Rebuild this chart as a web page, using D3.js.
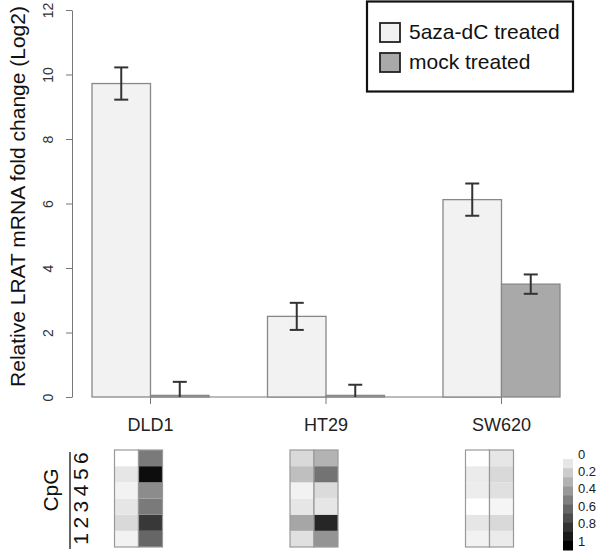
<!DOCTYPE html>
<html><head><meta charset="utf-8">
<script src="https://cdn.jsdelivr.net/npm/d3@7"></script>
<style>body{margin:0;background:#fff}svg{display:block}text{font-family:"Liberation Sans",Arial,sans-serif}</style>
</head><body><svg id="c" width="600" height="551"></svg>
<script>
const categories = ["DLD1","HT29","SW620"];
const seriesNames = ["5aza-dC treated","mock treated"];
const treated = [9.72, 2.5, 6.12];
const treatedErr = [0.5, 0.42, 0.5];
const mock = [0.05, 0.05, 3.5];
const mockErr = [0.42, 0.33, 0.3];
const yTicks = [0,2,4,6,8,10,12];
const cpgLabels = ["1","2","3","4","5","6"];
// methylation (0..1), CpG 1..6 (bottom to top)
const methTreated = [[0.05,0.15,0.1,0.05,0.1,0.0],[0.12,0.35,0.1,0.05,0.25,0.15],[0.05,0.1,0.0,0.07,0.08,0.0]];
const methMock = [[0.6,0.78,0.52,0.45,0.95,0.52],[0.42,0.85,0.1,0.14,0.55,0.3],[0.08,0.15,0.04,0.12,0.15,0.1]];
const scaleTicks = [0,0.2,0.4,0.6,0.8,1];

const svg = d3.select("#c");
const y = d3.scaleLinear().domain([0,12]).range([397,10]);
// R barplot positions: space 1 between groups, bar width 1
const x = d3.scaleLinear().domain([0,9]).range([33.5,560]);
const colors = ["#f2f2f2","#a9a9a9"];

// y axis
const yAxis = svg.append("g").attr("transform","translate(72,0)")
  .call(d3.axisLeft(y).tickValues(yTicks).tickSize(6).tickSizeOuter(0));
yAxis.select(".domain").attr("stroke","#777");
yAxis.selectAll(".tick line").attr("stroke","#777");
yAxis.selectAll(".tick text").attr("font-size",14).attr("fill","#333")
  .attr("x",0).attr("dy",0).attr("text-anchor","middle")
  .attr("transform","translate(-19,0) rotate(-90)");

svg.append("text").attr("transform",`translate(25,${y(6)-7}) rotate(-90)`)
  .attr("text-anchor","middle").attr("font-size",21).attr("fill","#111")
  .text("Relative LRAT mRNA fold change (Log2)");

// x axis
const centers = categories.map((c,i)=>1+3*i+1);
svg.append("line").attr("x1",x(centers[0])).attr("x2",x(centers[2]))
  .attr("y1",y(0)).attr("y2",y(0)).attr("stroke","#777");
categories.forEach((c,i)=>{
  svg.append("line").attr("x1",x(centers[i])).attr("x2",x(centers[i]))
    .attr("y1",y(0)).attr("y2",y(0)+7).attr("stroke","#777");
  svg.append("text").attr("x",x(centers[i])).attr("y",431).attr("text-anchor","middle")
    .attr("font-size",18).attr("fill","#222").text(c);
});

// bars
[treated,mock].forEach((vals,s)=>{
  const errs = s===0?treatedErr:mockErr;
  vals.forEach((v,i)=>{
    const x0 = x(1+3*i+s), x1 = x(2+3*i+s);
    svg.append("rect").attr("x",x0).attr("y",y(v)).attr("width",x1-x0).attr("height",y(0)-y(v))
      .attr("fill",colors[s]).attr("stroke","#888").attr("stroke-width",1.3);
    const cx=(x0+x1)/2, e=errs[i];
    const g = svg.append("g").attr("stroke","#333").attr("stroke-width",2);
    g.append("line").attr("x1",cx).attr("x2",cx).attr("y1",y(v+e)).attr("y2",y(Math.max(v-e,0)));
    g.append("line").attr("x1",cx-7).attr("x2",cx+7).attr("y1",y(v+e)).attr("y2",y(v+e));
    if (v-e>0) g.append("line").attr("x1",cx-7).attr("x2",cx+7).attr("y1",y(v-e)).attr("y2",y(v-e));
  });
});

// legend
svg.append("rect").attr("x",367).attr("y",1.5).attr("width",206).attr("height",90)
  .attr("fill","#fff").attr("stroke","#111").attr("stroke-width",2.2);
seriesNames.forEach((n,i)=>{
  svg.append("rect").attr("x",380).attr("y",23+i*30).attr("width",20).attr("height",19)
    .attr("fill",colors[i]).attr("stroke","#222").attr("stroke-width",1.8);
  svg.append("text").attr("x",409).attr("y",39+i*30).attr("font-size",21).attr("fill","#111").text(n);
});

// heatmap
const gray = d3.scaleLinear().domain([0,1]).range(["#ffffff","#000000"]);
const hy = d3.scaleBand().domain(cpgLabels).range([547,450]);
const cellW = 24;
categories.forEach((c,i)=>{
  const left = x(centers[i]) - 12 - cellW;
  [methTreated[i], methMock[i]].forEach((col,k)=>{
    col.forEach((v,r)=>{
      svg.append("rect").attr("x",left+k*cellW).attr("y",hy(cpgLabels[r]))
        .attr("width",cellW).attr("height",hy.bandwidth()).attr("fill",gray(v));
    });
    svg.append("rect").attr("x",left+k*cellW).attr("y",450).attr("width",cellW).attr("height",97)
      .attr("fill","none").attr("stroke","#999").attr("stroke-width",1.2);
  });
});

// CpG label
svg.append("text").attr("transform",`translate(58,${(477+503)/2}) rotate(-90)`)
  .attr("text-anchor","middle").attr("font-size",21).attr("fill","#111").text("CpG");
svg.append("line").attr("x1",70).attr("x2",70).attr("y1",452).attr("y2",549).attr("stroke","#111").attr("stroke-width",1.3);
cpgLabels.forEach(l=>{
  svg.append("text").attr("transform",`translate(88,${hy(l)+hy.bandwidth()/2}) rotate(-90)`)
    .attr("text-anchor","middle").attr("font-size",21).attr("fill","#111").text(l);
});

// colour scale
const steps = d3.range(11).map(i=>i/10);
const sy = d3.scaleLinear().domain([0,1]).range([450,550]);
steps.forEach(v=>{
  svg.append("rect").attr("x",563).attr("y",sy(v*10/11)).attr("width",10).attr("height",100/11+0.5)
    .attr("fill",gray(v));
});
const ly = d3.scaleLinear().domain([0,1]).range([454,541]);
scaleTicks.forEach(t=>{
  svg.append("text").attr("x",578).attr("y",ly(t)+4.5).attr("font-size",13)
    .attr("font-family","DejaVu Sans").attr("fill","#222").text(t);
});
</script></body></html>
